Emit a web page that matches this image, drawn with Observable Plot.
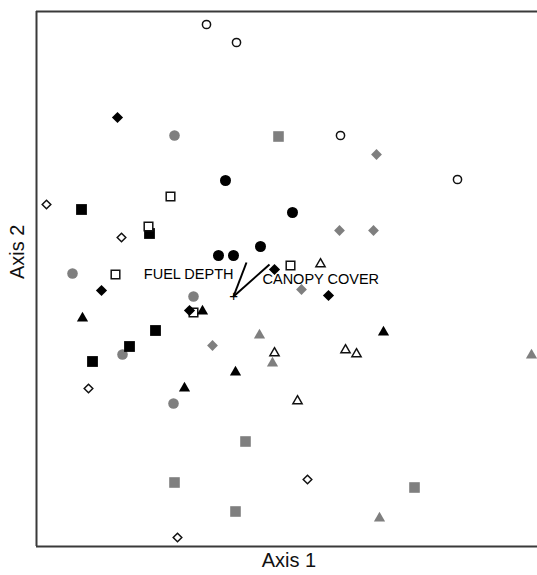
<!DOCTYPE html>
<html>
<head>
<meta charset="utf-8">
<script src="https://cdn.jsdelivr.net/npm/d3@7"></script>
<script src="https://cdn.jsdelivr.net/npm/@observablehq/plot@0.6"></script>
<style>
  html, body { margin: 0; padding: 0; background: #fff; }
  #chart { width: 537px; height: 575px; }
</style>
</head>
<body>
<div id="chart"></div>
<script>
// Ordination scores (arbitrary units)
const blackCircles = [[189,366],[256,334],[182,291],[197,291],[224,300]];
const greyCircles  = [[138,411],[36,273],[157,250],[86,192],[137,143]];
const openCircles  = [[170,522],[200,504],[304,411],[421,367]];

const blackSquares = [[45,337],[113,313],[119,216],[93,200],[56,185]];
const greySquares  = [[242,410],[209,105],[138,64],[199,35],[378,59]];
const openSquares  = [[134,350],[112,320],[79,272],[157,234],[254,281]];

const blackDiamonds = [[81,429],[65,256],[153,236],[238,277],[292,251]];
const greyDiamonds  = [[340,392],[303,316],[337,316],[265,257],[176,201]];
const openDiamonds  = [[10,342],[85,309],[52,158],[271,67],[141,9]];

const blackTriangles = [[166,236],[46,229],[199,175],[148,159],[347,215]];
const greyTriangles  = [[223,212],[236,184],[495,192],[343,29]];
const openTriangles  = [[284,283],[238,194],[309,197],[320,193],[261,146]];

const centroid = [197,250];
const vectorNames = ["FUEL DEPTH", "CANOPY COVER"];
const vectorEnds = [[210,284],[233,282]];

const xDomain = [0, 501];
const yDomain = [0, 535];

// custom symbols: "size" is pi*r^2, so r is recovered and used as half-extent
const rOf = size => Math.sqrt(size / Math.PI);
const symCircle = {draw(ctx, size) { const r = rOf(size); ctx.moveTo(r, 0); ctx.arc(0, 0, r, 0, 2 * Math.PI); ctx.closePath(); }};
const symSquare = {draw(ctx, size) { const r = rOf(size); ctx.rect(-r, -r, 2 * r, 2 * r); }};
const symDiamond = {draw(ctx, size) { const r = rOf(size); ctx.moveTo(0, -r); ctx.lineTo(r, 0); ctx.lineTo(0, r); ctx.lineTo(-r, 0); ctx.closePath(); }};
const symTriangle = {draw(ctx, size) { const r = rOf(size); const h = r * Math.sqrt(3); ctx.moveTo(0, -h * 0.6); ctx.lineTo(r, h * 0.4); ctx.lineTo(-r, h * 0.4); ctx.closePath(); }};

function pts(arr) { return arr.map(([x, y]) => ({x, y})); }

function group(arr, symbol, kind, r) {
  const fill = kind === "black" ? "#000" : kind === "grey" ? "#7f7f7f" : "#fff";
  const stroke = kind === "open" ? "#111" : "none";
  return Plot.dot(pts(arr), {x: "x", y: "y", symbol, r, fill, stroke, strokeWidth: kind === "open" ? 1.5 : 0});
}

const vectors = vectorEnds.map(([x2, y2], i) => ({name: vectorNames[i], x1: centroid[0], y1: centroid[1], x2, y2}));

const chart = Plot.plot({
  width: 537,
  height: 575,
  marginLeft: 36,
  marginTop: 11,
  marginBottom: 29,
  marginRight: 0,
  style: {fontFamily: "'Liberation Sans', Arial, sans-serif", background: "#fff"},
  x: {domain: xDomain, axis: null},
  y: {domain: yDomain, axis: null},
  marks: [
    Plot.ruleX([xDomain[0]], {stroke: "#3a3a3a", strokeWidth: 2}),
    Plot.ruleY([yDomain[0], yDomain[1]], {stroke: "#3a3a3a", strokeWidth: 2}),

    group(greyCircles, symCircle, "grey", 5.3),
    group(blackCircles, symCircle, "black", 5.5),
    group(openCircles, symCircle, "open", 4.1),

    group(greySquares, symSquare, "grey", 5.3),
    group(blackSquares, symSquare, "black", 5.4),
    group(openSquares, symSquare, "open", 4.3),

    group(greyDiamonds, symDiamond, "grey", 5.4),
    group(blackDiamonds, symDiamond, "black", 5.6),
    group(openDiamonds, symDiamond, "open", 4.3),

    group(greyTriangles, symTriangle, "grey", 5.6),
    group(blackTriangles, symTriangle, "black", 5.6),
    group(openTriangles, symTriangle, "open", 4.6),

    Plot.link(vectors, {x1: "x1", y1: "y1", x2: "x2", y2: "y2", stroke: "#000", strokeWidth: 2}),
    Plot.text([centroid], {x: d => d[0], y: d => d[1], text: () => "+", fontSize: 15, fill: "#000"}),
    Plot.text([vectors[0]], {x: "x2", y: "y2", text: "name", textAnchor: "end", dx: -13, dy: 12, fontSize: 14.5, fill: "#000"}),
    Plot.text([vectors[1]], {x: "x2", y: "y2", text: "name", textAnchor: "start", dx: -7, dy: 15, fontSize: 14.5, fill: "#000"}),

    Plot.text(["Axis 1"], {frameAnchor: "bottom", text: d => d, dy: 20, dx: 2, fontSize: 20, fill: "#111"}),
    Plot.text(["Axis 2"], {frameAnchor: "left", text: d => d, rotate: -90, dx: -19, fontSize: 20, fill: "#111"})
  ]
});
document.getElementById("chart").appendChild(chart);
</script>
</body>
</html>
